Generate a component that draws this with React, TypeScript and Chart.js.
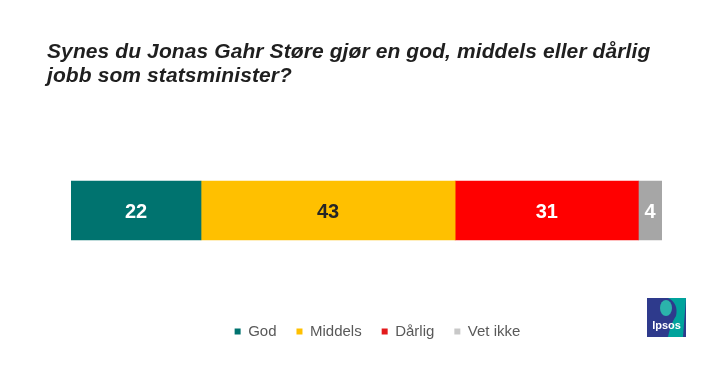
import React, { useEffect, useRef } from "react";
import { Chart, registerables } from "chart.js";

Chart.register(...registerables);

const categories = ["Jonas Gahr Støre"];
const seriesNames = ["God", "Middels", "Dårlig", "Vet ikke"];
const godValues = [22];
const middelsValues = [43];
const darligValues = [31];
const vetIkkeValues = [4];
const titleLines = [
  "Synes du Jonas Gahr Støre gjør en god, middels eller dårlig",
  "jobb som statsminister?",
];

const barColors = ["#00736F", "#FFC000", "#FF0000", "#A6A6A6"];
const legendColors = ["#00736F", "#FFC000", "#E31A1C", "#C8C8C8"];
const valueLabelColors = ["#FFFFFF", "#262626", "#FFFFFF", "#FFFFFF"];
const FONT = "Arial, 'Liberation Sans', sans-serif";

const titlePlugin = {
  id: "customTitle",
  afterDraw(chart: any) {
    const ctx = chart.ctx;
    ctx.save();
    ctx.font = `italic bold 21px ${FONT}`;
    try {
      (ctx as any).letterSpacing = "0.1px";
    } catch (e) {}
    ctx.fillStyle = "#1F1F1F";
    ctx.textAlign = "left";
    ctx.textBaseline = "alphabetic";
    titleLines.forEach((line, i) => ctx.fillText(line, 47, 57.5 + i * 24.5));
    ctx.restore();
  },
};

const valueLabelPlugin = {
  id: "valueLabels",
  afterDatasetsDraw(chart: any) {
    const ctx = chart.ctx;
    ctx.save();
    ctx.font = `bold 20px ${FONT}`;
    ctx.textAlign = "center";
    ctx.textBaseline = "middle";
    chart.data.datasets.forEach((ds: any, di: number) => {
      const meta = chart.getDatasetMeta(di);
      meta.data.forEach((el: any, i: number) => {
        const p = el.getProps(["x", "y", "base"], true);
        ctx.fillStyle = valueLabelColors[di];
        ctx.fillText(String(ds.data[i]), (p.x + p.base) / 2, p.y + 1.5);
      });
    });
    ctx.restore();
  },
};

const logoPlugin = {
  id: "ipsosLogo",
  afterDraw(chart: any) {
    const ctx = chart.ctx;
    const x = 647, y = 298, s = 39;
    ctx.save();
    ctx.fillStyle = "#2E3A8C";
    ctx.fillRect(x, y, s, s);
    ctx.fillStyle = "#00A39C";
    ctx.beginPath();
    ctx.moveTo(x + 21, y);
    ctx.lineTo(x + s, y);
    ctx.lineTo(x + s - 3, y + s);
    ctx.lineTo(x + 21, y + s);
    ctx.bezierCurveTo(x + 23, y + 30, x + 25, y + 24, x + 29, y + 18);
    ctx.bezierCurveTo(x + 31, y + 10, x + 28, y + 3, x + 21, y);
    ctx.closePath();
    ctx.fill();
    ctx.fillStyle = "#2BB3AB";
    ctx.beginPath();
    ctx.ellipse(x + 19, y + 10, 6, 8, 0, 0, Math.PI * 2);
    ctx.fill();
    ctx.fillStyle = "#FFFFFF";
    ctx.font = `bold 11px ${FONT}`;
    ctx.textAlign = "center";
    ctx.textBaseline = "alphabetic";
    ctx.fillText("Ipsos", x + s / 2, y + 31);
    ctx.restore();
  },
};

export default function App() {
  const canvasRef = useRef<HTMLCanvasElement | null>(null);

  useEffect(() => {
    const seriesValues = [godValues, middelsValues, darligValues, vetIkkeValues];
    const chart = new Chart(canvasRef.current as HTMLCanvasElement, {
      type: "bar",
      data: {
        labels: categories,
        datasets: seriesNames.map((name, i) => ({
          label: name,
          data: seriesValues[i],
          backgroundColor: barColors[i],
          borderWidth: 0,
          barThickness: 59,
        })),
      },
      options: {
        responsive: false,
        animation: false,
        indexAxis: "y",
        layout: { padding: { left: 71, right: 29, top: 117, bottom: 38 } },
        scales: {
          x: { stacked: true, min: 0, max: 100, display: false },
          y: { stacked: true, display: false },
          y2: {
            type: "linear",
            position: "right",
            display: true,
            grid: { display: false },
            border: { display: false },
            ticks: { display: false },
            afterFit(scale: any) {
              scale.width = 22;
            },
          },
        },
        plugins: {
          title: { display: false },
          tooltip: { enabled: false },
          legend: {
            display: true,
            position: "bottom",
            labels: {
              boxWidth: 6,
              boxHeight: 6,
              padding: 20,
              color: "#595959",
              font: { size: 15, family: FONT },
              generateLabels(ch: any) {
                const base = Chart.defaults.plugins.legend.labels.generateLabels(ch);
                return base.map((l: any, i: number) => ({
                  ...l,
                  fillStyle: legendColors[i],
                  strokeStyle: legendColors[i],
                  lineWidth: 0,
                }));
              },
            },
          },
        },
      } as any,
      plugins: [titlePlugin, valueLabelPlugin, logoPlugin],
    });
    return () => chart.destroy();
  }, []);

  return (
    <div style={{ position: "fixed", left: 0, top: 0, width: 713, height: 387, background: "#fff" }}>
      <canvas ref={canvasRef} width={713} height={387} />
    </div>
  );
}
